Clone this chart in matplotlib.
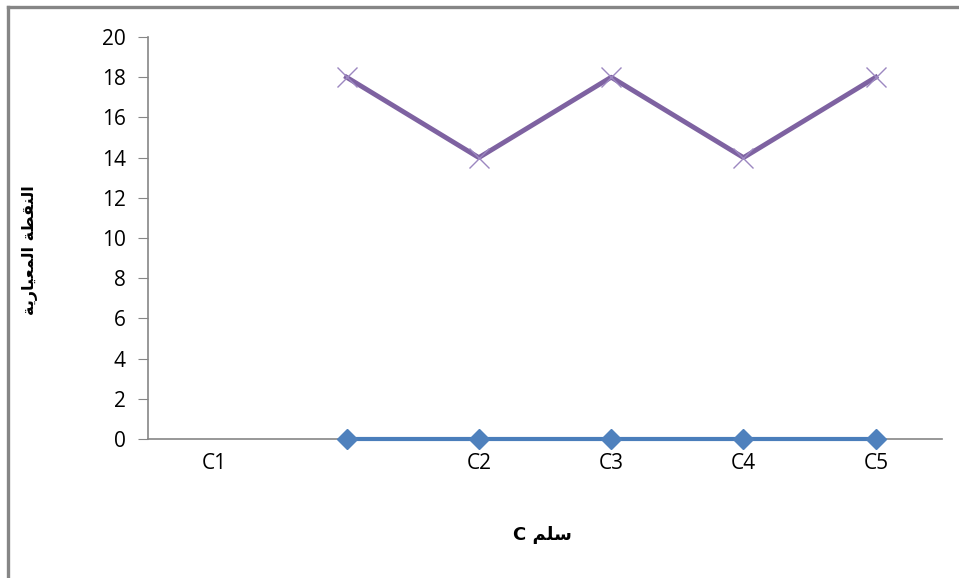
import numpy as np
import matplotlib
matplotlib.use('Agg')
import matplotlib.pyplot as plt
from matplotlib.lines import Line2D

# Categories and series (first category has no values)
categorias = ['C1', '', 'C2', 'C3', 'C4', 'C5']
serie_roxa = [np.nan, 18, 14, 18, 14, 18]
serie_azul = [np.nan, 0, 0, 0, 0, 0]
y_ticks = [0, 2, 4, 6, 8, 10, 12, 14, 16, 18, 20]

# Arabic labels written in shaped, visual order (matplotlib does no shaping)
rotulo_x = 'C ' + '\uFEE2\uFEE0\uFEB3'   # سلم C
rotulo_y = ('\uFE94\uFEF3\uFEAD\uFE8E\uFEF4\uFECC\uFEE4\uFEDF\uFE8D'
            ' \uFE94\uFEC4\uFED8\uFEE8\uFEDF\uFE8D')   # النقطة المعيارية

plt.rcParams['font.family'] = ['Open Sans', 'DejaVu Sans']

fig = plt.figure(figsize=(9.59, 5.78), dpi=100)
ax = fig.add_axes([148 / 959, 1 - 439 / 578, (942 - 148) / 959, (439 - 37) / 578])

x = np.arange(len(categorias))
ax.plot(x, serie_roxa, color='#7E62A1', lw=3.5, zorder=3, clip_on=False)
ax.plot(x, serie_roxa, ls='none', marker='x', ms=14, mew=1.0, color='#9C87C0',
        zorder=4, clip_on=False)
ax.plot(x, serie_azul, color='#4A7EBB', lw=3.0, marker='D', ms=10.5,
        markerfacecolor='#4F81BD', markeredgecolor='#4F81BD', zorder=3, clip_on=False)

ax.set_xlim(-0.5, len(categorias) - 0.5)
ax.set_ylim(0, 20)
ax.set_yticks(y_ticks)
ax.set_xticks(x)
ax.set_xticklabels(categorias, fontsize=15)
ax.tick_params(axis='y', labelsize=15, length=7, color='#868686', pad=9, direction='out')
ax.tick_params(axis='x', length=0, pad=10)

for lado in ['top', 'right']:
    ax.spines[lado].set_visible(False)
ax.spines['left'].set_color('#868686')
ax.spines['bottom'].set_color('#868686')
ax.spines['left'].set_linewidth(1.2)
ax.spines['bottom'].set_linewidth(1.2)

fig.text(542 / 959, 1 - 535 / 578, rotulo_x, ha='center', va='center',
         fontsize=13, fontweight='bold', family='DejaVu Sans')
fig.text(30 / 959, 1 - 250 / 578, rotulo_y, ha='center', va='center',
         rotation=90, fontsize=11.5, fontweight='bold', family='DejaVu Sans')

# Outer chart frame (only top and left edges visible)
fig.add_artist(Line2D([8 / 959, 1.0], [1 - 7 / 578, 1 - 7 / 578], color='#868686', lw=2.4))
fig.add_artist(Line2D([8 / 959, 8 / 959], [0.0, 1 - 7 / 578], color='#868686', lw=2.4))

plt.savefig('out.png', dpi=100)
plt.close()
